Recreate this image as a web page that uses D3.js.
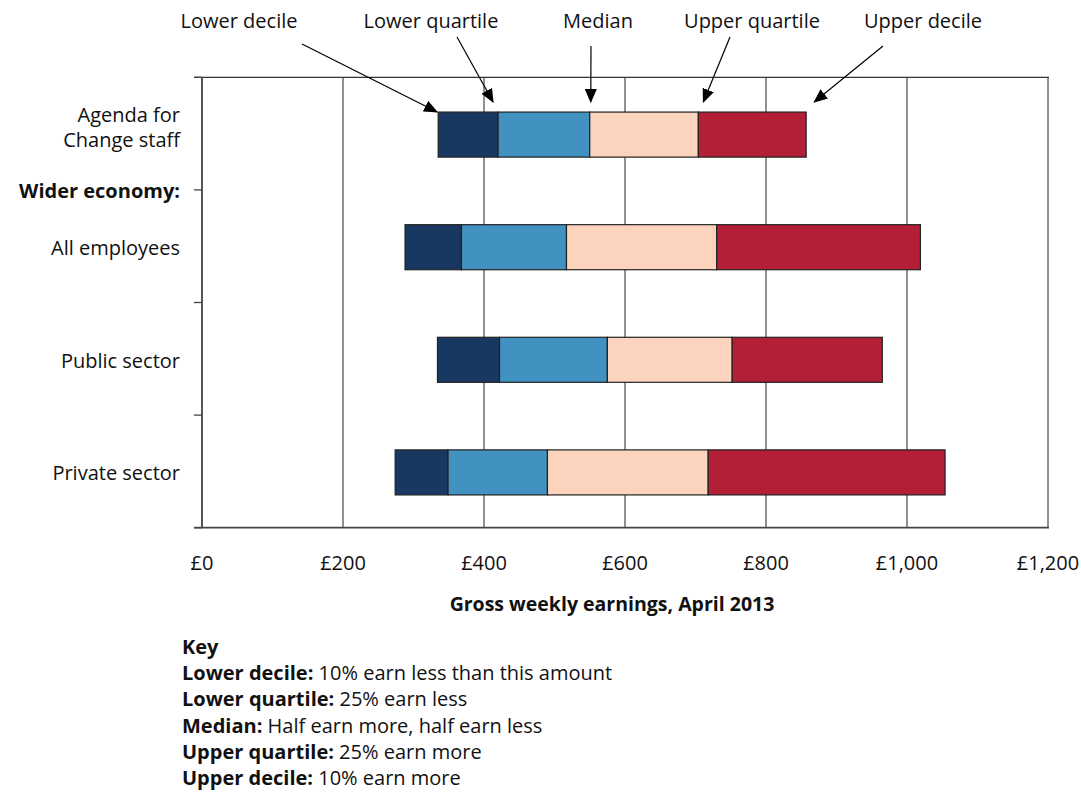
<!DOCTYPE html>
<html><head><meta charset="utf-8">
<script src="https://cdn.jsdelivr.net/npm/d3@7"></script>
<style>
body{margin:0;background:#fff}
svg{display:block}
.sans{font-family:'Open Sans','Noto Sans',sans-serif}
</style></head>
<body><svg id="chart" width="1081" height="798"></svg>
<script>
// ---- data ----
const categories = ["Agenda for Change staff", "All employees", "Public sector", "Private sector"];
const lowerDecile   = [335, 288, 334, 274];
const lowerQuartile = [420, 368, 422, 349];
const median        = [550, 517, 575, 490];
const upperQuartile = [704, 730, 752, 718];
const upperDecile   = [857, 1019, 965, 1054];
const seriesNames = ["Lower decile", "Lower quartile", "Median", "Upper quartile", "Upper decile"];
const xTicks = [0, 200, 400, 600, 800, 1000, 1200];
const keyLines = [
  ["Lower decile:", " 10% earn less than this amount"],
  ["Lower quartile:", " 25% earn less"],
  ["Median:", " Half earn more, half earn less"],
  ["Upper quartile:", " 25% earn more"],
  ["Upper decile:", " 10% earn more"]
];
const colors = ["#193861", "#4192c1", "#fcd4bd", "#b21f36"];

// ---- layout ----
const svg = d3.select("#chart");
const L = 202, R = 1048, T = 77.3, B = 527.7;
const x = d3.scaleLinear().domain([0, 1200]).range([L, R]);
const y = d3.scaleBand().domain(categories).range([T, B]).paddingInner(0.6).paddingOuter(0.3);
const step = y.step();

// gridlines
svg.append("g").selectAll("line").data(xTicks.filter(d => d > 0)).join("line")
  .attr("x1", d => x(d)).attr("x2", d => x(d)).attr("y1", T).attr("y2", B)
  .attr("stroke", "#222").attr("stroke-width", 1);
// top line
svg.append("line").attr("x1", L - 8).attr("x2", R + 1).attr("y1", T).attr("y2", T)
  .attr("stroke", "#333").attr("stroke-width", 1.3);

// y axis with ticks at band boundaries
const boundaries = d3.range(categories.length + 1).map(i => T + i * step);
svg.append("line").attr("x1", L).attr("x2", L).attr("y1", T).attr("y2", B)
  .attr("stroke", "#555").attr("stroke-width", 2);
svg.append("g").selectAll("line").data(boundaries).join("line")
  .attr("x1", L - 8).attr("x2", L).attr("y1", d => d).attr("y2", d => d)
  .attr("stroke", "#444").attr("stroke-width", 1.3);
// bottom axis
svg.append("line").attr("x1", L - 8).attr("x2", R + 1).attr("y1", B).attr("y2", B)
  .attr("stroke", "#444").attr("stroke-width", 1.8);

// bars
const rows = categories.map((c, i) => ({
  cat: c,
  v: [lowerDecile[i], lowerQuartile[i], median[i], upperQuartile[i], upperDecile[i]]
}));
const segs = [];
rows.forEach(r => { for (let k = 0; k < 4; k++) segs.push({cat: r.cat, a: r.v[k], b: r.v[k + 1], k}); });
svg.append("g").selectAll("rect").data(segs).join("rect")
  .attr("x", d => x(d.a)).attr("width", d => x(d.b) - x(d.a))
  .attr("y", d => y(d.cat) + 1).attr("height", y.bandwidth())
  .attr("fill", d => colors[d.k]).attr("stroke", "#222").attr("stroke-width", 1.2);

// y labels
const yl = svg.append("g").attr("class", "sans").attr("font-size", 20).attr("fill", "#111").attr("text-anchor", "end");
categories.forEach((c, i) => {
  const cy = y(c) + y.bandwidth() / 2;
  if (i === 0) {
    yl.append("text").attr("x", 180).attr("y", cy - 12).text("Agenda for");
    yl.append("text").attr("x", 180).attr("y", cy + 13).text("Change staff");
  } else {
    yl.append("text").attr("x", 180).attr("y", cy + 9).text(c);
  }
});
yl.append("text").attr("x", 180).attr("y", boundaries[1] + 8).attr("font-weight", "bold").text("Wider economy:");

// x tick labels
svg.append("g").attr("class", "sans").attr("font-size", 20).attr("fill", "#111").attr("text-anchor", "middle")
  .selectAll("text").data(xTicks).join("text")
  .attr("x", d => x(d)).attr("y", 570)
  .text(d => "£" + d3.format(",")(d));
svg.append("text").attr("class", "sans").attr("font-size", 19.5).attr("font-weight", "bold")
  .attr("text-anchor", "middle").attr("x", 612).attr("y", 611).attr("fill", "#111")
  .text("Gross weekly earnings, April 2013");

// annotations
const defs = svg.append("defs");
defs.append("marker").attr("id", "ah").attr("markerUnits", "userSpaceOnUse")
  .attr("markerWidth", 14).attr("markerHeight", 12).attr("viewBox", "0 0 14 12")
  .attr("refX", 13).attr("refY", 6).attr("orient", "auto")
  .append("path").attr("d", "M0,0 L14,6 L0,12 Z").attr("fill", "#000");
const a0 = rows[0].v;
const barTop = y(categories[0]) + 1;
const ann = [
  {label: seriesNames[0], lx: 239, sx: 302, sy: 44, tx: x(a0[0]) - 1, ty: barTop},
  {label: seriesNames[1], lx: 431, sx: 457, sy: 37, tx: x(a0[1]) - 5, ty: barTop - 10},
  {label: seriesNames[2], lx: 598, sx: 591, sy: 46, tx: x(a0[2]) + 1, ty: barTop - 10},
  {label: seriesNames[3], lx: 752, sx: 730, sy: 37, tx: x(a0[3]) + 5, ty: barTop - 10},
  {label: seriesNames[4], lx: 923, sx: 883, sy: 46, tx: x(a0[4]) + 8, ty: barTop - 10}
];
const ag = svg.append("g");
ag.selectAll("text").data(ann).join("text").attr("class", "sans")
  .attr("font-size", 20).attr("fill", "#111").attr("text-anchor", "middle")
  .attr("x", d => d.lx).attr("y", 28).text(d => d.label);
ag.selectAll("line").data(ann).join("line")
  .attr("x1", d => d.sx).attr("y1", d => d.sy).attr("x2", d => d.tx).attr("y2", d => d.ty)
  .attr("stroke", "#000").attr("stroke-width", 1.2).attr("marker-end", "url(#ah)");

// key
const kg = svg.append("g").attr("class", "sans").attr("font-size", 20).attr("fill", "#111");
kg.append("text").attr("x", 182).attr("y", 654).attr("font-weight", "bold").text("Key");
keyLines.forEach((kl, i) => {
  const t = kg.append("text").attr("x", 182).attr("y", 680 + i * 26.3);
  t.append("tspan").attr("font-weight", "bold").text(kl[0]);
  t.append("tspan").text(kl[1]);
});
</script></body></html>
